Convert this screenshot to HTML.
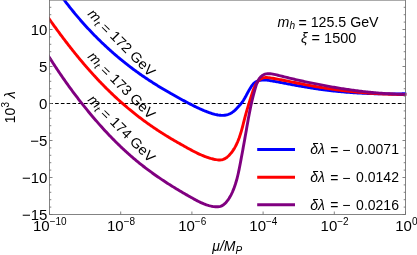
<!DOCTYPE html><html><head><meta charset="utf-8"><style>html,body{margin:0;padding:0;background:#fff;}svg{display:block;font-family:"Liberation Sans",sans-serif;will-change:transform;opacity:0.999;}</style></head><body>
<svg width="417" height="255" viewBox="0 0 417 255">
<rect width="417" height="255" fill="#fff"/>
<defs><clipPath id="c"><rect x="49.00" y="0.00" width="357.50" height="214.50"/></clipPath></defs>
<path d="M49.3 103.50H193.8" stroke="#000" stroke-width="1.2" stroke-dasharray="3.65 2.13" fill="none"/>
<path d="M193.8 103.50H405.50" stroke="#000" stroke-width="1.2" stroke-dasharray="3.8 2.2" fill="none"/>
<g clip-path="url(#c)" fill="none" stroke-width="2.9" stroke-linejoin="round">
<path d="M60.49 -4.92L64.10 -0.13L64.71 0.68L65.31 1.48L65.92 2.28L66.54 3.08L67.15 3.88L67.77 4.67L68.39 5.47L69.01 6.26L69.63 7.05L70.25 7.83L70.88 8.62L71.51 9.41L72.14 10.19L72.77 10.97L73.41 11.75L74.05 12.52L74.69 13.30L75.33 14.07L75.97 14.84L76.62 15.61L77.26 16.38L77.91 17.15L78.56 17.91L79.22 18.67L79.87 19.43L80.53 20.19L81.19 20.94L81.85 21.70L82.52 22.45L83.18 23.20L83.85 23.95L84.52 24.69L85.19 25.44L85.87 26.18L86.54 26.92L87.22 27.66L87.90 28.39L88.58 29.13L89.27 29.86L89.95 30.59L90.64 31.32L91.33 32.04L92.03 32.77L92.72 33.49L93.42 34.21L94.12 34.92L94.82 35.64L95.52 36.35L96.23 37.06L96.93 37.77L97.64 38.48L98.35 39.19L99.07 39.89L99.78 40.59L100.50 41.29L101.22 41.98L101.94 42.68L102.67 43.37L103.39 44.06L104.12 44.75L104.85 45.43L105.58 46.12L106.31 46.80L107.05 47.48L107.79 48.16L108.53 48.83L109.27 49.50L110.01 50.17L110.76 50.84L111.51 51.51L112.26 52.17L113.01 52.83L113.77 53.49L114.52 54.15L115.28 54.80L116.04 55.46L116.81 56.11L117.57 56.75L118.34 57.40L119.11 58.04L119.88 58.68L120.65 59.32L121.43 59.96L122.20 60.59L122.98 61.23L123.76 61.86L124.55 62.48L125.33 63.11L126.12 63.73L126.91 64.35L127.70 64.97L128.49 65.58L129.29 66.20L130.09 66.81L130.89 67.42L131.69 68.02L132.49 68.63L133.30 69.23L134.11 69.83L134.92 70.42L135.73 71.02L136.55 71.61L137.36 72.20L138.18 72.78L139.00 73.37L139.82 73.95L140.65 74.53L141.47 75.11L142.30 75.68L143.13 76.25L143.97 76.82L144.80 77.39L145.64 77.96L146.47 78.52L147.31 79.08L148.16 79.64L149.00 80.19L149.84 80.74L150.69 81.30L151.54 81.84L152.39 82.39L153.24 82.93L154.09 83.48L154.95 84.02L155.80 84.55L156.66 85.09L157.52 85.62L158.38 86.15L159.24 86.68L160.10 87.21L160.96 87.73L161.83 88.25L162.69 88.77L163.56 89.29L164.43 89.81L165.29 90.32L166.16 90.83L167.03 91.34L167.91 91.85L168.78 92.35L169.65 92.85L170.52 93.36L171.40 93.85L172.27 94.35L173.15 94.85L174.03 95.34L174.90 95.83L175.78 96.32L176.66 96.81L177.54 97.29L178.42 97.78L179.30 98.26L180.18 98.74L181.06 99.21L181.94 99.69L182.82 100.16L183.70 100.64L184.58 101.11L185.46 101.57L186.34 102.04L187.23 102.51L188.11 102.97L188.99 103.43L189.87 103.89L190.75 104.35L191.64 104.80L192.52 105.25L193.40 105.70L194.29 106.15L195.18 106.59L196.07 107.03L196.97 107.46L197.86 107.89L198.76 108.31L199.67 108.73L200.58 109.14L201.49 109.55L202.41 109.95L203.33 110.34L204.26 110.73L205.19 111.10L206.13 111.47L207.08 111.84L208.03 112.19L208.99 112.53L209.96 112.87L210.94 113.19L211.92 113.51L212.91 113.81L213.91 114.09L214.91 114.35L215.91 114.58L216.91 114.79L217.91 114.98L218.91 115.12L219.91 115.24L220.91 115.32L221.90 115.35L222.88 115.35L223.86 115.30L224.83 115.20L225.80 115.04L226.75 114.84L227.69 114.57L228.62 114.25L229.53 113.87L230.43 113.44L231.31 112.96L232.16 112.43L232.99 111.85L233.79 111.23L234.56 110.57L235.30 109.88L236.00 109.15L236.69 108.41L237.38 107.67L238.06 106.93L238.74 106.20L239.42 105.46L240.09 104.72L240.75 103.97L241.38 103.20L241.99 102.41L242.58 101.60L243.14 100.77L243.68 99.92L244.20 99.06L244.71 98.20L245.20 97.33L245.69 96.46L246.17 95.58L246.64 94.69L247.12 93.81L247.59 92.92L248.07 92.04L248.56 91.15L249.05 90.27L249.55 89.39L250.07 88.51L250.60 87.64L251.15 86.78L251.73 85.93L252.33 85.11L252.98 84.33L253.66 83.60L254.40 82.94L255.19 82.35L256.03 81.83L256.92 81.38L257.84 81.00L258.80 80.68L259.78 80.43L260.77 80.24L261.78 80.10L262.80 80.01L263.81 79.98L264.82 80.00L265.82 80.06L266.82 80.15L267.82 80.27L268.81 80.40L269.80 80.56L270.79 80.71L271.78 80.88L272.76 81.04L273.75 81.21L274.74 81.39L275.73 81.56L276.71 81.74L277.70 81.92L278.68 82.11L279.67 82.29L280.66 82.48L281.64 82.67L282.63 82.86L283.62 83.04L284.60 83.23L285.59 83.42L286.58 83.61L287.56 83.80L288.55 83.98L289.54 84.17L290.52 84.36L291.51 84.54L292.50 84.72L293.49 84.91L294.48 85.09L295.47 85.27L296.46 85.45L297.45 85.63L298.44 85.81L299.43 85.99L300.42 86.16L301.41 86.34L302.40 86.51L303.39 86.69L304.38 86.86L305.37 87.03L306.36 87.19L307.36 87.36L308.35 87.52L309.34 87.69L310.33 87.85L311.33 88.01L312.32 88.16L313.31 88.32L314.31 88.47L315.30 88.62L316.29 88.77L317.29 88.92L318.28 89.06L319.28 89.21L320.27 89.35L321.27 89.48L322.27 89.62L323.26 89.75L324.26 89.88L325.26 90.01L326.25 90.14L327.25 90.26L328.25 90.38L329.24 90.50L330.24 90.62L331.24 90.73L332.24 90.84L333.24 90.95L334.24 91.06L335.23 91.16L336.23 91.27L337.23 91.37L338.23 91.47L339.23 91.56L340.23 91.66L341.23 91.75L342.23 91.84L343.23 91.93L344.23 92.02L345.24 92.10L346.24 92.18L347.24 92.26L348.24 92.34L349.24 92.42L350.24 92.49L351.25 92.56L352.25 92.63L353.25 92.70L354.25 92.76L355.25 92.83L356.26 92.89L357.26 92.95L358.26 93.01L359.27 93.06L360.27 93.12L361.27 93.17L362.28 93.22L363.28 93.27L364.28 93.31L365.29 93.36L366.29 93.40L367.30 93.44L368.30 93.48L369.30 93.52L370.31 93.55L371.31 93.59L372.32 93.62L373.32 93.65L374.33 93.68L375.33 93.71L376.34 93.73L377.34 93.75L378.35 93.78L379.35 93.80L380.36 93.81L381.36 93.83L382.37 93.85L383.37 93.86L384.38 93.87L385.38 93.88L386.39 93.89L387.40 93.90L388.40 93.90L389.41 93.91L390.41 93.91L391.42 93.91L392.42 93.91L393.43 93.91L394.44 93.90L395.44 93.90L396.45 93.89L397.45 93.88L398.46 93.87L399.46 93.86L400.47 93.85L401.48 93.83L402.48 93.82L403.49 93.80L404.49 93.78L405.50 93.77L406.50 93.74" stroke="#0000ff"/>
<path d="M45.66 14.03L49.14 18.92L49.82 19.88L50.50 20.83L51.18 21.78L51.86 22.74L52.55 23.69L53.23 24.64L53.92 25.59L54.61 26.54L55.30 27.48L55.99 28.43L56.68 29.38L57.38 30.32L58.07 31.26L58.77 32.21L59.46 33.15L60.16 34.09L60.86 35.03L61.56 35.97L62.27 36.90L62.97 37.84L63.68 38.77L64.39 39.70L65.10 40.64L65.81 41.57L66.52 42.50L67.23 43.42L67.95 44.35L68.67 45.28L69.39 46.20L70.11 47.12L70.83 48.04L71.56 48.96L72.28 49.88L73.01 50.80L73.74 51.71L74.47 52.62L75.21 53.54L75.95 54.45L76.68 55.35L77.42 56.26L78.17 57.17L78.91 58.07L79.66 58.97L80.41 59.87L81.16 60.77L81.91 61.67L82.67 62.56L83.43 63.45L84.19 64.34L84.95 65.23L85.71 66.12L86.48 67.01L87.25 67.89L88.02 68.77L88.80 69.65L89.57 70.53L90.35 71.40L91.13 72.28L91.92 73.15L92.70 74.02L93.49 74.88L94.28 75.75L95.08 76.61L95.87 77.47L96.67 78.33L97.47 79.18L98.28 80.04L99.08 80.89L99.89 81.74L100.70 82.58L101.52 83.43L102.33 84.27L103.15 85.11L103.97 85.94L104.80 86.78L105.62 87.61L106.45 88.44L107.28 89.26L108.12 90.09L108.96 90.91L109.80 91.73L110.64 92.54L111.48 93.36L112.33 94.16L113.18 94.97L114.03 95.78L114.89 96.58L115.75 97.38L116.61 98.17L117.48 98.96L118.34 99.75L119.21 100.54L120.08 101.32L120.96 102.10L121.84 102.88L122.72 103.66L123.60 104.43L124.49 105.20L125.38 105.96L126.27 106.72L127.16 107.48L128.06 108.24L128.96 108.99L129.87 109.74L130.77 110.48L131.68 111.22L132.59 111.96L133.51 112.70L134.43 113.43L135.35 114.16L136.27 114.88L137.20 115.60L138.13 116.32L139.06 117.03L139.99 117.75L140.93 118.45L141.87 119.16L142.81 119.86L143.75 120.56L144.70 121.25L145.65 121.94L146.60 122.63L147.55 123.31L148.51 123.99L149.47 124.67L150.43 125.34L151.39 126.01L152.35 126.67L153.32 127.34L154.29 128.00L155.26 128.65L156.24 129.30L157.21 129.95L158.19 130.59L159.17 131.24L160.15 131.87L161.13 132.51L162.12 133.14L163.11 133.76L164.10 134.39L165.09 135.01L166.08 135.62L167.08 136.23L168.07 136.84L169.07 137.45L170.07 138.05L171.07 138.64L172.07 139.24L173.08 139.83L174.09 140.41L175.09 141.00L176.10 141.58L177.11 142.16L178.12 142.73L179.14 143.31L180.15 143.88L181.17 144.46L182.18 145.03L183.20 145.61L184.22 146.18L185.23 146.75L186.25 147.33L187.28 147.90L188.30 148.47L189.32 149.03L190.35 149.59L191.38 150.14L192.41 150.69L193.45 151.24L194.49 151.77L195.53 152.30L196.57 152.82L197.62 153.33L198.68 153.83L199.73 154.31L200.79 154.79L201.86 155.25L202.93 155.70L204.01 156.13L205.09 156.55L206.17 156.96L207.27 157.34L208.37 157.71L209.48 158.06L210.59 158.39L211.72 158.69L212.87 158.97L214.02 159.23L215.19 159.46L216.37 159.66L217.57 159.83L218.77 159.94L219.96 159.98L221.12 159.90L222.25 159.70L223.33 159.37L224.36 158.93L225.36 158.38L226.32 157.74L227.24 157.03L228.13 156.25L228.98 155.42L229.79 154.55L230.57 153.66L231.32 152.75L232.04 151.81L232.73 150.86L233.39 149.88L234.02 148.89L234.62 147.89L235.20 146.87L235.75 145.83L236.29 144.78L236.79 143.72L237.28 142.64L237.75 141.56L238.19 140.47L238.62 139.37L239.04 138.26L239.43 137.15L239.81 136.04L240.18 134.91L240.54 133.79L240.88 132.67L241.21 131.54L241.54 130.41L241.85 129.28L242.16 128.14L242.46 127.01L242.76 125.88L243.05 124.74L243.34 123.61L243.63 122.47L243.92 121.34L244.21 120.20L244.50 119.07L244.79 117.94L245.09 116.81L245.39 115.68L245.70 114.55L246.01 113.43L246.33 112.31L246.65 111.18L246.97 110.06L247.30 108.94L247.64 107.82L247.97 106.70L248.31 105.58L248.65 104.46L249.00 103.34L249.35 102.22L249.70 101.10L250.05 99.97L250.40 98.85L250.76 97.72L251.11 96.60L251.47 95.47L251.83 94.34L252.19 93.20L252.56 92.08L252.94 90.95L253.34 89.84L253.77 88.74L254.22 87.65L254.71 86.59L255.23 85.54L255.80 84.51L256.42 83.52L257.09 82.55L257.81 81.62L258.60 80.73L259.45 79.90L260.37 79.16L261.34 78.56L262.37 78.11L263.45 77.80L264.57 77.61L265.72 77.53L266.90 77.54L268.09 77.62L269.29 77.75L270.49 77.92L271.67 78.11L272.85 78.30L274.01 78.50L275.16 78.71L276.31 78.92L277.45 79.13L278.59 79.35L279.73 79.57L280.88 79.79L282.02 80.02L283.16 80.24L284.31 80.47L285.46 80.70L286.60 80.92L287.75 81.15L288.90 81.38L290.05 81.62L291.20 81.85L292.35 82.08L293.50 82.31L294.65 82.54L295.80 82.77L296.95 83.00L298.10 83.23L299.26 83.46L300.41 83.69L301.56 83.92L302.72 84.15L303.87 84.37L305.03 84.59L306.18 84.81L307.34 85.03L308.49 85.25L309.65 85.47L310.81 85.68L311.96 85.89L313.12 86.09L314.28 86.30L315.43 86.50L316.59 86.70L317.75 86.90L318.91 87.09L320.07 87.28L321.23 87.47L322.39 87.66L323.55 87.85L324.71 88.03L325.87 88.21L327.03 88.39L328.19 88.56L329.35 88.73L330.51 88.90L331.67 89.07L332.83 89.23L333.99 89.40L335.16 89.56L336.32 89.71L337.48 89.87L338.64 90.02L339.81 90.17L340.97 90.32L342.13 90.46L343.30 90.60L344.46 90.74L345.63 90.88L346.79 91.01L347.96 91.15L349.12 91.27L350.29 91.40L351.45 91.53L352.62 91.65L353.79 91.77L354.95 91.88L356.12 92.00L357.29 92.11L358.45 92.22L359.62 92.33L360.79 92.43L361.96 92.53L363.13 92.63L364.29 92.73L365.46 92.82L366.63 92.92L367.80 93.01L368.97 93.09L370.14 93.18L371.31 93.26L372.48 93.34L373.65 93.42L374.82 93.49L375.99 93.56L377.16 93.63L378.34 93.70L379.51 93.76L380.68 93.82L381.85 93.88L383.02 93.94L384.20 93.99L385.37 94.05L386.54 94.09L387.71 94.14L388.89 94.19L390.06 94.23L391.23 94.27L392.41 94.30L393.58 94.34L394.76 94.37L395.93 94.40L397.11 94.43L398.28 94.45L399.46 94.47L400.63 94.49L401.81 94.51L402.98 94.52L404.16 94.53L405.34 94.54L406.51 94.55" stroke="#ff0000"/>
<path d="M46.20 52.34L49.41 57.41L50.11 58.52L50.81 59.62L51.51 60.73L52.22 61.83L52.93 62.92L53.64 64.02L54.35 65.11L55.06 66.20L55.78 67.29L56.50 68.38L57.22 69.47L57.94 70.55L58.67 71.63L59.40 72.71L60.13 73.79L60.86 74.86L61.60 75.93L62.33 77.00L63.07 78.07L63.82 79.14L64.56 80.20L65.31 81.27L66.06 82.33L66.81 83.38L67.57 84.44L68.32 85.50L69.08 86.55L69.85 87.60L70.61 88.65L71.38 89.69L72.15 90.74L72.92 91.78L73.69 92.82L74.47 93.86L75.25 94.89L76.04 95.93L76.82 96.96L77.61 97.99L78.40 99.02L79.19 100.05L79.99 101.07L80.79 102.10L81.59 103.12L82.39 104.14L83.20 105.15L84.01 106.17L84.82 107.18L85.64 108.19L86.46 109.20L87.28 110.21L88.10 111.22L88.93 112.22L89.76 113.23L90.59 114.23L91.43 115.23L92.26 116.22L93.10 117.22L93.95 118.21L94.80 119.20L95.65 120.19L96.50 121.18L97.36 122.16L98.21 123.14L99.08 124.12L99.94 125.09L100.81 126.07L101.68 127.04L102.56 128.01L103.43 128.97L104.31 129.94L105.20 130.89L106.08 131.85L106.97 132.81L107.87 133.76L108.76 134.70L109.66 135.65L110.57 136.59L111.47 137.53L112.38 138.46L113.30 139.39L114.21 140.32L115.13 141.24L116.05 142.16L116.98 143.08L117.91 143.99L118.84 144.90L119.78 145.81L120.72 146.71L121.66 147.60L122.61 148.50L123.56 149.39L124.51 150.27L125.47 151.15L126.43 152.03L127.40 152.90L128.36 153.77L129.34 154.63L130.31 155.49L131.29 156.35L132.27 157.20L133.26 158.04L134.25 158.88L135.24 159.72L136.24 160.55L137.24 161.37L138.24 162.19L139.25 163.01L140.26 163.82L141.28 164.63L142.29 165.43L143.32 166.23L144.34 167.02L145.37 167.81L146.40 168.59L147.44 169.37L148.48 170.15L149.52 170.92L150.56 171.69L151.61 172.45L152.66 173.21L153.72 173.96L154.77 174.71L155.84 175.46L156.90 176.20L157.97 176.94L159.04 177.67L160.11 178.40L161.18 179.13L162.26 179.85L163.34 180.57L164.43 181.29L165.51 182.00L166.60 182.71L167.69 183.41L168.79 184.11L169.89 184.81L170.99 185.50L172.09 186.20L173.19 186.88L174.30 187.57L175.41 188.25L176.52 188.92L177.64 189.60L178.75 190.27L179.87 190.94L180.99 191.60L182.12 192.27L183.24 192.92L184.37 193.58L185.50 194.23L186.63 194.88L187.77 195.53L188.90 196.18L190.04 196.82L191.18 197.46L192.32 198.10L193.47 198.73L194.61 199.36L195.76 199.98L196.92 200.60L198.08 201.20L199.24 201.79L200.41 202.36L201.59 202.90L202.78 203.43L203.97 203.93L205.18 204.39L206.40 204.83L207.63 205.23L208.87 205.60L210.13 205.92L211.40 206.20L212.69 206.44L214.00 206.62L215.31 206.75L216.63 206.81L217.94 206.77L219.22 206.62L220.46 206.34L221.65 205.90L222.77 205.30L223.82 204.54L224.81 203.66L225.74 202.69L226.62 201.68L227.45 200.64L228.23 199.57L228.97 198.48L229.67 197.37L230.32 196.24L230.95 195.09L231.54 193.93L232.10 192.75L232.63 191.56L233.13 190.36L233.62 189.16L234.08 187.94L234.52 186.72L234.95 185.49L235.36 184.26L235.74 183.02L236.12 181.77L236.48 180.52L236.82 179.27L237.15 178.01L237.47 176.75L237.78 175.48L238.08 174.21L238.36 172.94L238.64 171.67L238.91 170.39L239.18 169.11L239.43 167.83L239.69 166.55L239.93 165.27L240.18 163.99L240.42 162.71L240.66 161.43L240.90 160.14L241.14 158.86L241.38 157.58L241.62 156.30L241.86 155.02L242.10 153.74L242.33 152.46L242.57 151.18L242.80 149.90L243.03 148.62L243.27 147.34L243.50 146.06L243.73 144.78L243.96 143.50L244.19 142.22L244.42 140.94L244.65 139.66L244.88 138.38L245.11 137.10L245.33 135.81L245.56 134.53L245.79 133.25L246.01 131.96L246.24 130.68L246.46 129.39L246.69 128.10L246.91 126.81L247.14 125.53L247.36 124.24L247.59 122.95L247.82 121.66L248.05 120.38L248.28 119.09L248.52 117.80L248.76 116.52L249.00 115.24L249.24 113.95L249.49 112.67L249.74 111.39L249.99 110.12L250.25 108.84L250.52 107.57L250.79 106.30L251.06 105.03L251.34 103.76L251.63 102.50L251.92 101.24L252.22 99.99L252.52 98.73L252.83 97.48L253.15 96.23L253.48 94.98L253.81 93.72L254.15 92.47L254.49 91.21L254.85 89.95L255.21 88.68L255.58 87.41L255.95 86.13L256.35 84.86L256.78 83.60L257.26 82.37L257.78 81.17L258.38 80.02L259.04 78.92L259.80 77.89L260.65 76.94L261.62 76.07L262.69 75.30L263.85 74.67L265.06 74.18L266.31 73.87L267.58 73.72L268.87 73.69L270.18 73.77L271.49 73.93L272.80 74.15L274.10 74.40L275.39 74.67L276.67 74.95L277.94 75.24L279.21 75.55L280.47 75.86L281.72 76.17L282.98 76.49L284.23 76.81L285.49 77.12L286.75 77.44L288.01 77.75L289.27 78.06L290.53 78.36L291.79 78.66L293.06 78.96L294.33 79.26L295.59 79.56L296.86 79.85L298.13 80.14L299.40 80.43L300.68 80.71L301.95 80.99L303.22 81.27L304.50 81.55L305.77 81.83L307.05 82.10L308.33 82.37L309.61 82.64L310.89 82.90L312.17 83.17L313.45 83.43L314.73 83.69L316.01 83.94L317.29 84.20L318.57 84.45L319.85 84.70L321.13 84.94L322.42 85.19L323.70 85.43L324.98 85.67L326.26 85.91L327.55 86.14L328.83 86.38L330.12 86.61L331.40 86.83L332.68 87.06L333.97 87.28L335.25 87.50L336.54 87.72L337.82 87.93L339.11 88.14L340.40 88.35L341.68 88.56L342.97 88.76L344.26 88.96L345.54 89.16L346.83 89.35L348.12 89.54L349.41 89.73L350.70 89.92L351.99 90.10L353.28 90.28L354.57 90.45L355.86 90.62L357.15 90.79L358.44 90.96L359.73 91.12L361.02 91.28L362.31 91.43L363.61 91.58L364.90 91.73L366.19 91.88L367.49 92.02L368.78 92.15L370.07 92.29L371.37 92.42L372.66 92.54L373.96 92.67L375.26 92.78L376.55 92.90L377.85 93.01L379.15 93.12L380.45 93.22L381.75 93.32L383.04 93.41L384.34 93.50L385.64 93.59L386.94 93.67L388.25 93.75L389.55 93.82L390.85 93.89L392.15 93.96L393.45 94.02L394.76 94.07L396.06 94.13L397.37 94.17L398.67 94.22L399.98 94.26L401.28 94.29L402.59 94.32L403.90 94.34L405.21 94.36L406.51 94.38" stroke="#800080"/>
</g>
<text transform="translate(86.9 14.6) rotate(45) scale(1.035 1)" font-size="14" fill="#000"><tspan font-style="italic">m</tspan><tspan font-style="italic" font-size="10" dy="2.5">t</tspan><tspan dy="-1.5"> =</tspan><tspan dy="-1"> 172 GeV</tspan></text>
<text transform="translate(86.9 57.2) rotate(45) scale(1.035 1)" font-size="14" fill="#000"><tspan font-style="italic">m</tspan><tspan font-style="italic" font-size="10" dy="2.5">t</tspan><tspan dy="-1.5"> =</tspan><tspan dy="-1"> 173 GeV</tspan></text>
<text transform="translate(86.9 100.4) rotate(45) scale(1.035 1)" font-size="14" fill="#000"><tspan font-style="italic">m</tspan><tspan font-style="italic" font-size="10" dy="2.5">t</tspan><tspan dy="-1.5"> =</tspan><tspan dy="-1"> 174 GeV</tspan></text>
<g stroke="#6e6e6e" stroke-width="0.85" fill="none">
<rect x="49.50" y="0.15" width="356.00" height="214.35"/>
<path d="M49.50 214.50h3.00 M405.50 214.50h-3.00"/>
<path d="M49.50 207.10h1.80 M405.50 207.10h-1.80"/>
<path d="M49.50 199.70h1.80 M405.50 199.70h-1.80"/>
<path d="M49.50 192.30h1.80 M405.50 192.30h-1.80"/>
<path d="M49.50 184.90h1.80 M405.50 184.90h-1.80"/>
<path d="M49.50 177.50h3.00 M405.50 177.50h-3.00"/>
<path d="M49.50 170.10h1.80 M405.50 170.10h-1.80"/>
<path d="M49.50 162.70h1.80 M405.50 162.70h-1.80"/>
<path d="M49.50 155.30h1.80 M405.50 155.30h-1.80"/>
<path d="M49.50 147.90h1.80 M405.50 147.90h-1.80"/>
<path d="M49.50 140.50h3.00 M405.50 140.50h-3.00"/>
<path d="M49.50 133.10h1.80 M405.50 133.10h-1.80"/>
<path d="M49.50 125.70h1.80 M405.50 125.70h-1.80"/>
<path d="M49.50 118.30h1.80 M405.50 118.30h-1.80"/>
<path d="M49.50 110.90h1.80 M405.50 110.90h-1.80"/>
<path d="M49.50 103.50h3.00 M405.50 103.50h-3.00"/>
<path d="M49.50 96.10h1.80 M405.50 96.10h-1.80"/>
<path d="M49.50 88.70h1.80 M405.50 88.70h-1.80"/>
<path d="M49.50 81.30h1.80 M405.50 81.30h-1.80"/>
<path d="M49.50 73.90h1.80 M405.50 73.90h-1.80"/>
<path d="M49.50 66.50h3.00 M405.50 66.50h-3.00"/>
<path d="M49.50 59.10h1.80 M405.50 59.10h-1.80"/>
<path d="M49.50 51.70h1.80 M405.50 51.70h-1.80"/>
<path d="M49.50 44.30h1.80 M405.50 44.30h-1.80"/>
<path d="M49.50 36.90h1.80 M405.50 36.90h-1.80"/>
<path d="M49.50 29.50h3.00 M405.50 29.50h-3.00"/>
<path d="M49.50 22.10h1.80 M405.50 22.10h-1.80"/>
<path d="M49.50 14.70h1.80 M405.50 14.70h-1.80"/>
<path d="M49.50 7.30h1.80 M405.50 7.30h-1.80"/>
<path d="M49.50 214.50v-3.00"/>
<path d="M120.70 214.50v-3.00"/>
<path d="M191.90 214.50v-3.00"/>
<path d="M263.10 214.50v-3.00"/>
<path d="M334.30 214.50v-3.00"/>
<path d="M405.50 214.50v-3.00"/>
</g>
<text x="47.4" y="34.60" font-size="15.0" text-anchor="end" fill="#000">10</text>
<text x="47.4" y="71.60" font-size="15.0" text-anchor="end" fill="#000">5</text>
<text x="47.4" y="108.60" font-size="15.0" text-anchor="end" fill="#000">0</text>
<text x="47.4" y="145.60" font-size="15.0" text-anchor="end" fill="#000"><tspan dy="0.4">−</tspan><tspan dy="-0.4">5</tspan></text>
<text x="47.4" y="182.60" font-size="15.0" text-anchor="end" fill="#000"><tspan dy="0.4">−</tspan><tspan dy="-0.4">10</tspan></text>
<text x="47.4" y="219.60" font-size="15.0" text-anchor="end" fill="#000"><tspan dy="0.4">−</tspan><tspan dy="-0.4">15</tspan></text>
<text x="49.80" y="230.8" font-size="15.0" text-anchor="middle" fill="#000">10<tspan font-size="10" dy="-6.2">−10</tspan></text>
<text x="121.00" y="230.8" font-size="15.0" text-anchor="middle" fill="#000">10<tspan font-size="10" dy="-6.2">−8</tspan></text>
<text x="192.20" y="230.8" font-size="15.0" text-anchor="middle" fill="#000">10<tspan font-size="10" dy="-6.2">−6</tspan></text>
<text x="263.40" y="230.8" font-size="15.0" text-anchor="middle" fill="#000">10<tspan font-size="10" dy="-6.2">−4</tspan></text>
<text x="334.60" y="230.8" font-size="15.0" text-anchor="middle" fill="#000">10<tspan font-size="10" dy="-6.2">−2</tspan></text>
<text x="406.40" y="230.8" font-size="15.0" text-anchor="middle" fill="#000">10<tspan font-size="10" dy="-6.2">0</tspan></text>
<text transform="translate(14.9 123.2) rotate(-90)" font-size="14" fill="#000">10<tspan font-size="10" dy="-6.2">3</tspan><tspan dy="6.2"> </tspan><tspan font-style="italic">λ</tspan></text>
<text x="212.3" y="251.4" font-size="14" font-style="italic" fill="#000">μ/M<tspan font-size="10" dy="2.2">P</tspan></text>
<text transform="translate(277.6 26.9) scale(1.015 1)" font-size="14" fill="#000"><tspan font-style="italic">m</tspan><tspan font-style="italic" font-size="10" dy="2.5">h</tspan><tspan dy="-1.6" dx="-0.6"> =</tspan><tspan dy="-0.9"> 125.5 GeV</tspan></text>
<text transform="translate(301.1 42.6) scale(1.035 1)" font-size="14" fill="#000"><tspan font-style="italic">ξ</tspan><tspan dy="0.8"> =</tspan><tspan dy="-0.8"> 1500</tspan></text>
<line x1="257.2" y1="149.6" x2="295" y2="149.6" stroke="#0000ff" stroke-width="3"/>
<text x="310.3" y="154.4" font-size="14" fill="#000"><tspan font-style="italic">δλ</tspan><tspan dy="0.8" dx="1.3"> = −</tspan><tspan dy="-0.8" dx="1.8"> 0.0071</tspan></text>
<line x1="257.2" y1="177.2" x2="295" y2="177.2" stroke="#ff0000" stroke-width="3"/>
<text x="310.3" y="182.0" font-size="14" fill="#000"><tspan font-style="italic">δλ</tspan><tspan dy="0.8" dx="1.3"> = −</tspan><tspan dy="-0.8" dx="1.8"> 0.0142</tspan></text>
<line x1="257.2" y1="204.8" x2="295" y2="204.8" stroke="#800080" stroke-width="3"/>
<text x="310.3" y="209.6" font-size="14" fill="#000"><tspan font-style="italic">δλ</tspan><tspan dy="0.8" dx="1.3"> = −</tspan><tspan dy="-0.8" dx="1.8"> 0.0216</tspan></text>
</svg></body></html>
